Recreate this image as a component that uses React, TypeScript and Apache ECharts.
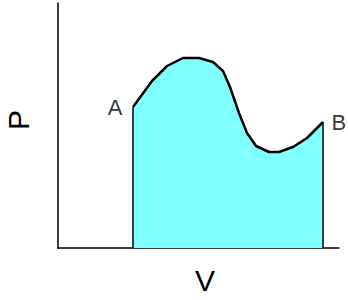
import React, { useEffect, useRef } from "react";
import * as echarts from "echarts";

// Volume (V) and pressure (P) along the path from A to B (arbitrary units)
const volume = [75, 94, 109, 125, 141, 155, 165, 172, 181, 189, 198, 211, 221, 235, 249, 265];
const pressure = [141, 167, 182, 190, 190, 186, 177, 161, 135, 115, 102, 96, 96, 101, 110, 126];
const endLabels = ["A", "B"];
const axisNames = { x: "V", y: "P" };
const vMax = 281;
const pMax = 245;

export default function App() {
  const ref = useRef<HTMLDivElement>(null);
  useEffect(() => {
    if (!ref.current) return;
    const chart = echarts.init(ref.current, undefined, { renderer: "svg" });
    const curve = volume.map((v, i) => [v, pressure[i]]);
    const last = volume.length - 1;
    const font = "Liberation Sans, Arial, sans-serif";
    const labelStyle = { show: true, color: "#000", fontSize: 22, fontFamily: font };
    chart.setOption({
      animation: false,
      grid: { left: 58, top: 3, width: 281, height: 245 },
      xAxis: {
        type: "value",
        min: 0,
        max: vMax,
        axisLine: { show: true, lineStyle: { color: "#000", width: 1.5 } },
        axisTick: { show: false },
        axisLabel: { show: false },
        splitLine: { show: false },
      },
      yAxis: {
        type: "value",
        min: 0,
        max: pMax,
        axisLine: { show: true, lineStyle: { color: "#000", width: 1.5 } },
        axisTick: { show: false },
        axisLabel: { show: false },
        splitLine: { show: false },
      },
      series: [
        {
          type: "line",
          data: curve,
          showSymbol: false,
          smooth: false,
          lineStyle: { color: "#000", width: 2.5 },
          areaStyle: { color: "#80ffff", opacity: 1 },
          z: 3,
        },
        {
          type: "line",
          data: [
            [volume[0], 0],
            [volume[0], pressure[0]],
          ],
          showSymbol: false,
          lineStyle: { color: "#000", width: 1.5 },
          z: 4,
        },
        {
          type: "line",
          data: [
            [volume[last], 0],
            [volume[last], pressure[last]],
          ],
          showSymbol: false,
          lineStyle: { color: "#000", width: 1.5 },
          z: 4,
        },
        {
          type: "scatter",
          symbolSize: 1,
          itemStyle: { color: "rgba(0,0,0,0)" },
          data: [
            {
              value: [volume[0], pressure[0]],
              label: { ...labelStyle, formatter: endLabels[0], position: "left", distance: 10 },
            },
            {
              value: [volume[last], pressure[last]],
              label: { ...labelStyle, formatter: endLabels[1], position: "right", distance: 8 },
            },
          ],
          z: 5,
        },
      ],
      graphic: [
        {
          type: "text",
          x: 205,
          y: 280,
          style: {
            text: axisNames.x,
            fontSize: 30,
            fontFamily: font,
            fill: "#000",
            align: "center",
            verticalAlign: "middle",
          },
        },
        {
          type: "text",
          x: 18,
          y: 120,
          rotation: Math.PI / 2,
          style: {
            text: axisNames.y,
            fontSize: 30,
            fontFamily: font,
            fill: "#000",
            align: "center",
            verticalAlign: "middle",
          },
        },
      ],
    });
    return () => chart.dispose();
  }, []);
  return (
    <div
      ref={ref}
      style={{ position: "absolute", left: 0, top: 0, width: 348, height: 300, background: "#fff" }}
    />
  );
}
